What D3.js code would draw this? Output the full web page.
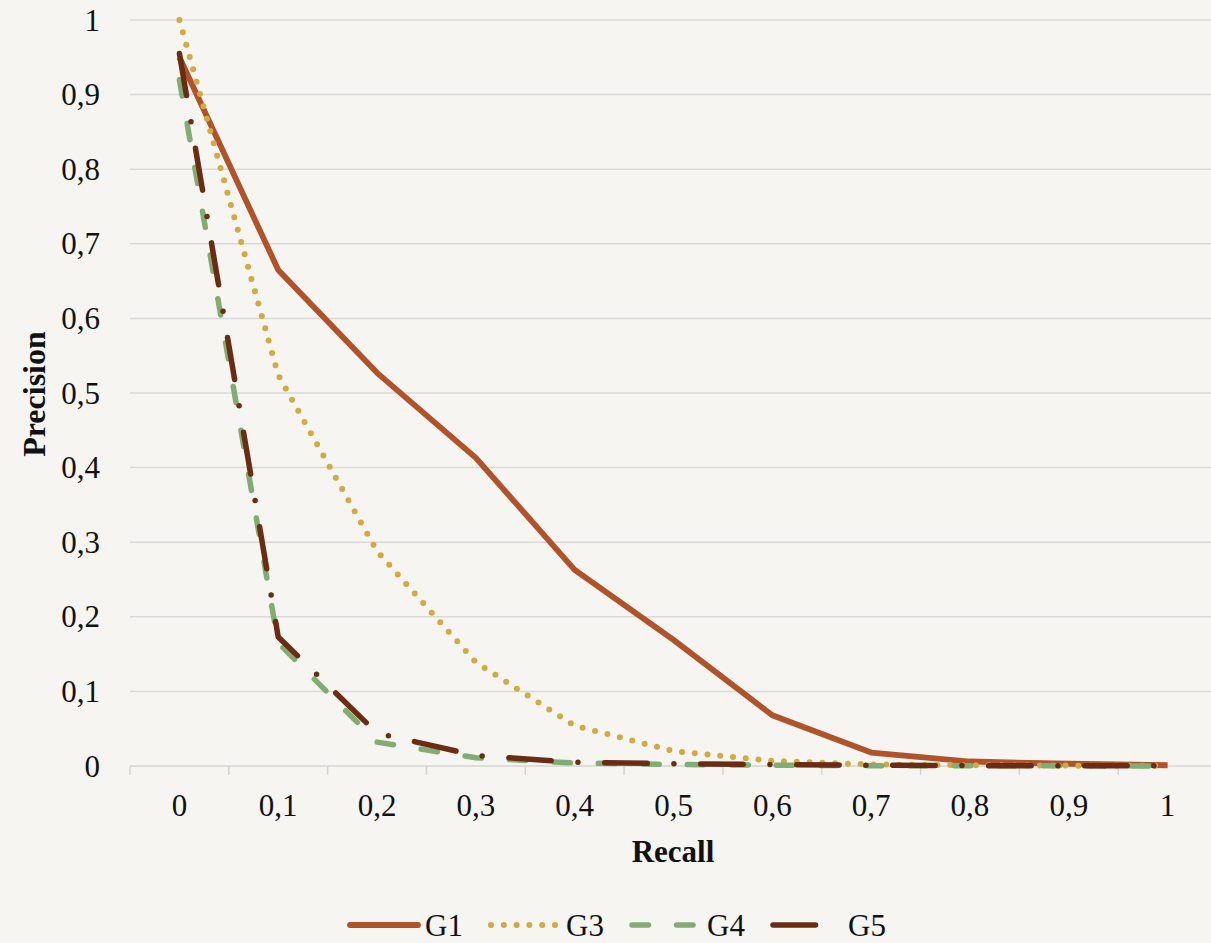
<!DOCTYPE html>
<html>
<head>
<meta charset="utf-8">
<script src="https://cdn.jsdelivr.net/npm/d3@7"></script>
<style>
  html, body { margin: 0; padding: 0; background: #f6f5f1; }
  svg { display: block; }
  text { font-family: "Liberation Serif", "Times New Roman", serif; fill: #111; }
</style>
</head>
<body>
<div id="chart"></div>
<script>
// recall categories (x axis) and tick labels
const recall = [0, 0.1, 0.2, 0.3, 0.4, 0.5, 0.6, 0.7, 0.8, 0.9, 1];
const recallLabels = ["0", "0,1", "0,2", "0,3", "0,4", "0,5", "0,6", "0,7", "0,8", "0,9", "1"];
const precisionTicks = [0, 0.1, 0.2, 0.3, 0.4, 0.5, 0.6, 0.7, 0.8, 0.9, 1];

// precision per series
const g1 = [0.95, 0.665, 0.527, 0.413, 0.263, 0.169, 0.068, 0.018, 0.006, 0.003, 0.001];
const g3 = [1.0, 0.524, 0.288, 0.139, 0.054, 0.02, 0.007, 0.002, 0.001, 0.0005, 0.0002];
const g4 = [0.92, 0.165, 0.032, 0.011, 0.004, 0.002, 0.001, 0.0005, 0.0003, 0.0002, 0.0001];
const g5 = [0.955, 0.173, 0.044, 0.014, 0.005, 0.003, 0.002, 0.001, 0.0005, 0.0003, 0.0002];

const series = [
  { name: "G1", values: g1, color: "#b0532a", width: 5.8, dash: null },
  { name: "G3", values: g3, color: "#d4a942", width: 6, dash: "0 12.8" },
  { name: "G4", values: g4, color: "#82ad72", width: 5.5, dash: "16.5 28" },
  { name: "G5", values: g5, color: "#6b2c14", width: 5.5, dash: "42.5 26.75 0 26.75" }
];

const width = 1211;
const height = 943;

const svg = d3.select("#chart")
  .append("svg")
  .attr("width", width)
  .attr("height", height);

svg.append("rect")
  .attr("width", width)
  .attr("height", height)
  .attr("fill", "#f6f5f1");

const x = d3.scaleBand()
  .domain(recall)
  .range([130, 1217]);

const y = d3.scaleLinear()
  .domain([0, 1])
  .range([766, 20]);

const cx = d => x(d) + x.bandwidth() / 2;

// horizontal gridlines
svg.append("g")
  .selectAll("line")
  .data(precisionTicks.filter(d => d > 0))
  .join("line")
  .attr("x1", 130)
  .attr("x2", width)
  .attr("y1", d => y(d))
  .attr("y2", d => y(d))
  .attr("stroke", "#d9d9d9")
  .attr("stroke-width", 1.5);

// y axis labels
svg.append("g")
  .selectAll("text")
  .data(precisionTicks)
  .join("text")
  .attr("x", 100)
  .attr("y", d => y(d))
  .attr("dy", "0.34em")
  .attr("text-anchor", "end")
  .attr("font-size", 31)
  .text(d => d === 0 ? "0" : d === 1 ? "1" : String(d).replace(".", ","));

// x axis with ticks between categories
const xAxis = svg.append("g").attr("transform", `translate(0,${y(0)})`);
xAxis.append("line")
  .attr("x1", 130)
  .attr("x2", width)
  .attr("stroke", "#d3d3d3")
  .attr("stroke-width", 1.5);
xAxis.selectAll("line.tick")
  .data(recall)
  .join("line")
  .attr("class", "tick")
  .attr("x1", d => x(d))
  .attr("x2", d => x(d))
  .attr("y1", 0)
  .attr("y2", 9)
  .attr("stroke", "#d3d3d3")
  .attr("stroke-width", 1.5);
xAxis.selectAll("text")
  .data(recall)
  .join("text")
  .attr("x", d => cx(d))
  .attr("y", 50)
  .attr("text-anchor", "middle")
  .attr("font-size", 31)
  .text((d, i) => recallLabels[i]);

// axis titles
svg.append("text")
  .attr("x", 673)
  .attr("y", 862)
  .attr("text-anchor", "middle")
  .attr("font-size", 31)
  .attr("font-weight", "bold")
  .text("Recall");

svg.append("text")
  .attr("transform", "translate(45,394) rotate(-90)")
  .attr("text-anchor", "middle")
  .attr("font-size", 32)
  .attr("font-weight", "bold")
  .text("Precision");

// lines
const line = d3.line()
  .x((d, i) => cx(recall[i]))
  .y(d => y(d));

svg.append("g")
  .selectAll("path")
  .data(series)
  .join("path")
  .attr("d", d => line(d.values))
  .attr("fill", "none")
  .attr("stroke", d => d.color)
  .attr("stroke-width", d => d.width)
  .attr("stroke-linecap", d => d.dash ? "round" : "butt")
  .attr("stroke-linejoin", "round")
  .attr("stroke-dasharray", d => d.dash);

// legend
const legend = svg.append("g")
  .selectAll("g")
  .data(series)
  .join("g")
  .attr("transform", (d, i) => `translate(${350 + i * 141},925)`);

legend.append("line")
  .attr("x1", 0)
  .attr("x2", 68)
  .attr("stroke", d => d.color)
  .attr("stroke-width", d => d.width)
  .attr("stroke-linecap", "round")
  .attr("stroke-dasharray", d => d.dash);

legend.append("text")
  .attr("x", 75)
  .attr("dy", "0.34em")
  .attr("font-size", 31)
  .text(d => d.name);
</script>
</body>
</html>
